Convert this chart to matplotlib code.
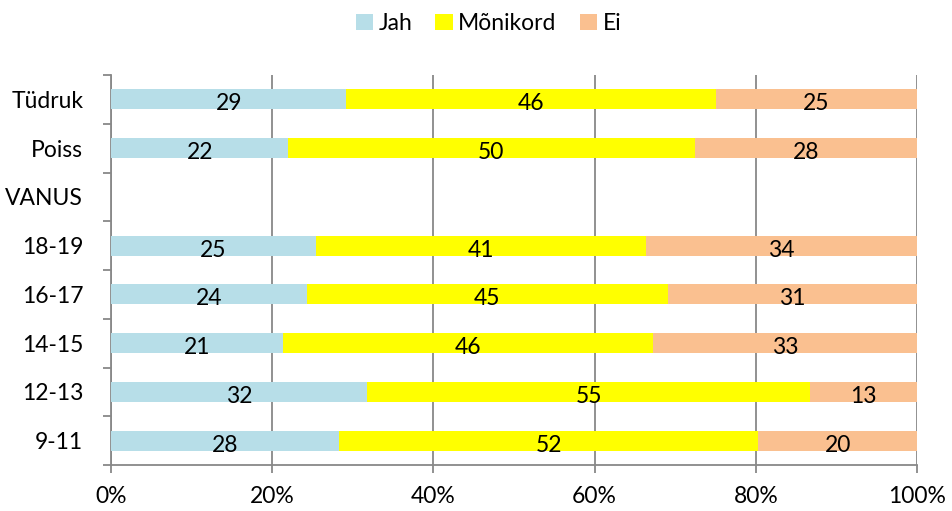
import numpy as np
import matplotlib.pyplot as plt
from matplotlib.ticker import FixedLocator, PercentFormatter

plt.rcParams['font.family'] = ['Lato', 'DejaVu Sans']

# categories from bottom to top
categories = ["9-11", "12-13", "14-15", "16-17", "18-19", "VANUS", "Poiss", "Tüdruk"]
series_names = ["Jah", "Mõnikord", "Ei"]
jah = [28.3, 31.8, 21.4, 24.3, 25.4, np.nan, 22.0, 29.2]
monikord = [52.0, 54.9, 45.9, 44.8, 41.0, np.nan, 50.4, 45.9]
ei = [19.7, 13.3, 32.7, 30.9, 33.6, np.nan, 27.6, 24.9]
colors = ["#B7DEE8", "#FFFF00", "#FAC090"]

fs = 16.5

fig = plt.figure(figsize=(9.52, 5.11), dpi=100)
ax = fig.add_axes([0.1166, 0.090, 0.8466, 0.763])

y = np.arange(len(categories))
left = np.zeros(len(categories))
for name, vals, col in zip(series_names, [jah, monikord, ei], colors):
    vals = np.array(vals, dtype=float)
    bars = ax.barh(y, np.nan_to_num(vals), left=left, height=0.41, color=col,
                   label=name, zorder=3)
    for b, v in zip(bars, vals):
        if np.isnan(v):
            continue
        ax.text(b.get_x() + b.get_width() / 2, b.get_y() + b.get_height() / 2 - 0.09,
                f"{v:.0f}", ha="center", va="center", fontsize=fs, color="black", zorder=4)
    left = left + np.nan_to_num(vals)

ax.set_xlim(0, 100)
ax.set_ylim(-0.5, len(categories) - 0.5)
ax.xaxis.set_major_locator(FixedLocator([0, 20, 40, 60, 80, 100]))
ax.xaxis.set_major_formatter(PercentFormatter(decimals=0))
ax.set_yticks(y)
ax.set_yticklabels(categories)
ax.yaxis.set_minor_locator(FixedLocator(np.arange(-0.5, len(categories), 1)))
ax.tick_params(axis="y", which="major", length=0, pad=20, labelsize=fs)
ax.tick_params(axis="y", which="minor", length=6, width=1.3, color="#888888")
ax.tick_params(axis="x", which="major", length=6, width=1.3, color="#888888",
               pad=9, labelsize=fs)

ax.grid(axis="x", color="#888888", linewidth=1.3, zorder=0)
for side in ["top", "right"]:
    ax.spines[side].set_visible(False)
for side in ["left", "bottom"]:
    ax.spines[side].set_color("#888888")
    ax.spines[side].set_linewidth(1.3)

handles, labels = ax.get_legend_handles_labels()
fig.legend(handles, labels, loc="upper center", bbox_to_anchor=(0.513, 1.015), ncol=3,
           frameon=False, fontsize=fs, handlelength=0.75, handleheight=0.75,
           handletextpad=0.25, columnspacing=1.0)

fig.savefig("out.png", dpi=100)
